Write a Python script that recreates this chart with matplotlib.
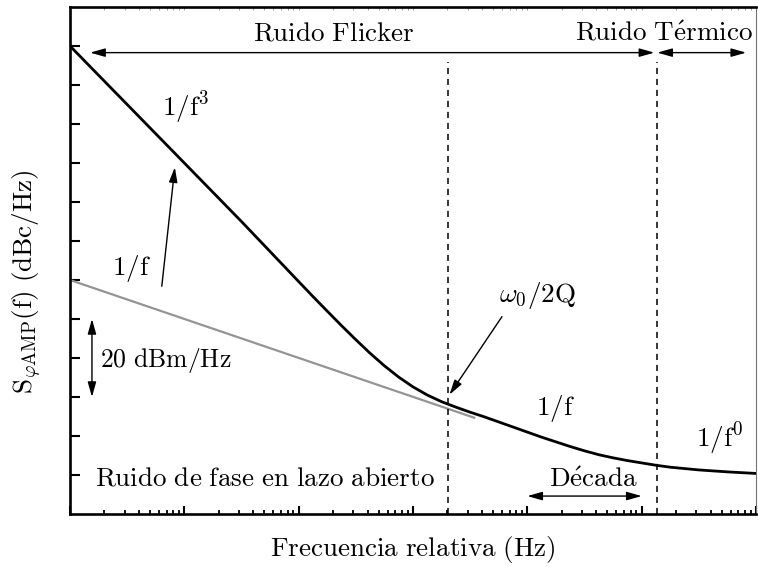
import matplotlib
matplotlib.use("Agg")
import matplotlib.pyplot as plt
from matplotlib.ticker import LogLocator, NullFormatter, FixedLocator

plt.rcParams["mathtext.fontset"] = "cm"
plt.rcParams["mathtext.default"] = "rm"

# Closed-loop phase-noise curve S(f) (Hz, dB); denser through the 1/f^3 -> 1/f bend
freq_hz = [1, 10, 31.6, 100, 133, 178, 237, 316, 422, 562, 750, 1000, 1334, 1778,
           2371, 3162, 4217, 5623, 7499, 10000, 13335, 17783, 23714, 31623, 42170,
           56234, 74989, 100000, 133352, 177828, 316228, 562341, 1000000]
s_total_db = [120.0, 90.0, 75.0, 59.6, 55.8, 52.0, 48.3, 44.7, 41.2, 38.0, 35.1, 32.6,
              30.5, 28.8, 27.4, 26.1, 24.9, 23.6, 22.3, 21.0, 19.7, 18.5, 17.3, 16.2,
              15.2, 14.4, 13.7, 13.1, 12.5, 12.0, 11.3, 10.8, 10.4]

# Open-loop 1/f asymptote
open_loop_f = [1, 3500]
open_loop_db = [60.0, 24.6]

# Boundaries: w0/2Q and flicker/thermal corner
f_leeson = 2040
f_corner = 135000

ytick_db = [10, 20, 30, 40, 50, 60, 70, 80, 90, 100, 110, 120]

fig = plt.figure(figsize=(7.58, 5.69), dpi=100)
ax = fig.add_axes([70 / 758, 55 / 569, 686 / 758, 507 / 569])

ax.set_xscale("log")
ax.set_xlim(1, 1e6)
ax.set_ylim(0, 130)

ax.plot(open_loop_f, open_loop_db, color="0.58", lw=1.6, solid_capstyle="butt", zorder=2)
ax.plot(freq_hz, s_total_db, color="black", lw=2.0, zorder=3,
        solid_joinstyle="round")

dash = (0, (4, 3.2))
ax.vlines([f_leeson, f_corner], 0, 116, colors="black", lw=1.1, linestyles=[dash])

# Spines
for side in ("left", "bottom", "top"):
    ax.spines[side].set_linewidth(1.9)
ax.spines["right"].set_linewidth(0.8)
ax.spines["right"].set_color("0.45")

# Ticks
ax.yaxis.set_major_locator(FixedLocator(ytick_db))
ax.yaxis.set_major_formatter(NullFormatter())
ax.xaxis.set_major_locator(LogLocator(base=10, numticks=10))
ax.xaxis.set_minor_locator(LogLocator(base=10, subs=range(2, 10), numticks=20))
ax.xaxis.set_major_formatter(NullFormatter())
ax.xaxis.set_minor_formatter(NullFormatter())
ax.tick_params(axis="y", which="major", direction="in", length=7, width=1.5, right=False)
ax.tick_params(axis="x", which="major", direction="in", length=6, width=1.5, top=False)
ax.tick_params(axis="x", which="minor", direction="in", length=3, width=1.3, top=False)

sec = ax.secondary_xaxis("top")
sec.xaxis.set_major_formatter(NullFormatter())
sec.xaxis.set_minor_formatter(NullFormatter())
sec.tick_params(which="both", direction="in", length=2.5, width=0.6, color="0.55")
sec.spines["top"].set_visible(False)

fs = 19.5
arrow_kw = dict(arrowstyle="-|>,head_length=0.6,head_width=0.17", color="black",
                lw=1.0, shrinkA=0, shrinkB=0, mutation_scale=15)
darrow_kw = dict(arrowstyle="<|-|>,head_length=0.6,head_width=0.17", color="black",
                 lw=1.0, shrinkA=0, shrinkB=0, mutation_scale=15)

# Region labels and span arrows
ax.text(202, 121.4, r"$Ruido\ Flicker$", fontsize=fs, ha="center", va="baseline")
ax.text(1.57e5, 121.4, r"$Ruido\ T\acute{e}rmico$", fontsize=fs, ha="center", va="baseline")
ax.annotate("", xy=(1.5, 118.3), xytext=(1.29e5, 118.3), arrowprops=darrow_kw)
ax.annotate("", xy=(1.37e5, 118.3), xytext=(8.2e5, 118.3), arrowprops=darrow_kw)

# Slope labels
ax.text(6.35, 102.0, r"$1/f^3$", fontsize=fs, ha="left", va="baseline")
ax.text(2.33, 61.2, r"$1/f$", fontsize=fs, ha="left", va="baseline")
ax.annotate("", xy=(8.26, 88.9), xytext=(6.35, 58.4), arrowprops=arrow_kw)
ax.text(1.2e4, 25.4, r"$1/f$", fontsize=fs, ha="left", va="baseline")
ax.text(2.99e5, 17.0, r"$1/f^0$", fontsize=fs, ha="left", va="baseline")

# w0/2Q marker
ax.text(5.7e3, 54.4, r"$\omega_0/2Q$", fontsize=fs, ha="left", va="baseline")
ax.annotate("", xy=(2085, 30.6), xytext=(6.0e3, 50.6), arrowprops=arrow_kw)

# 20 dB scale bar
ax.annotate("", xy=(1.556, 50), xytext=(1.556, 30), arrowprops=darrow_kw)
ax.text(1.83, 37.6, r"$20\ dBm/Hz$", fontsize=18.5, ha="left", va="baseline")

ax.text(1.65, 7.2, r"$Ruido\ de\ fase\ en\ lazo\ abierto$", fontsize=fs,
        ha="left", va="baseline")

# Decade marker
ax.text(3.77e4, 6.9, r"$D\acute{e}cada$", fontsize=fs, ha="center", va="baseline")
ax.annotate("", xy=(1e4, 4.6), xytext=(1e5, 4.6), arrowprops=darrow_kw)

ax.set_xlabel(r"$Frecuencia\ relativa\ (Hz)$", fontsize=fs, labelpad=11)
ax.set_ylabel(r"$S_{\varphi AMP}(f)\ (dBc/Hz)$", fontsize=fs)
ax.yaxis.set_label_coords(-0.038, 0.458)

fig.savefig("out.png", dpi=100)
